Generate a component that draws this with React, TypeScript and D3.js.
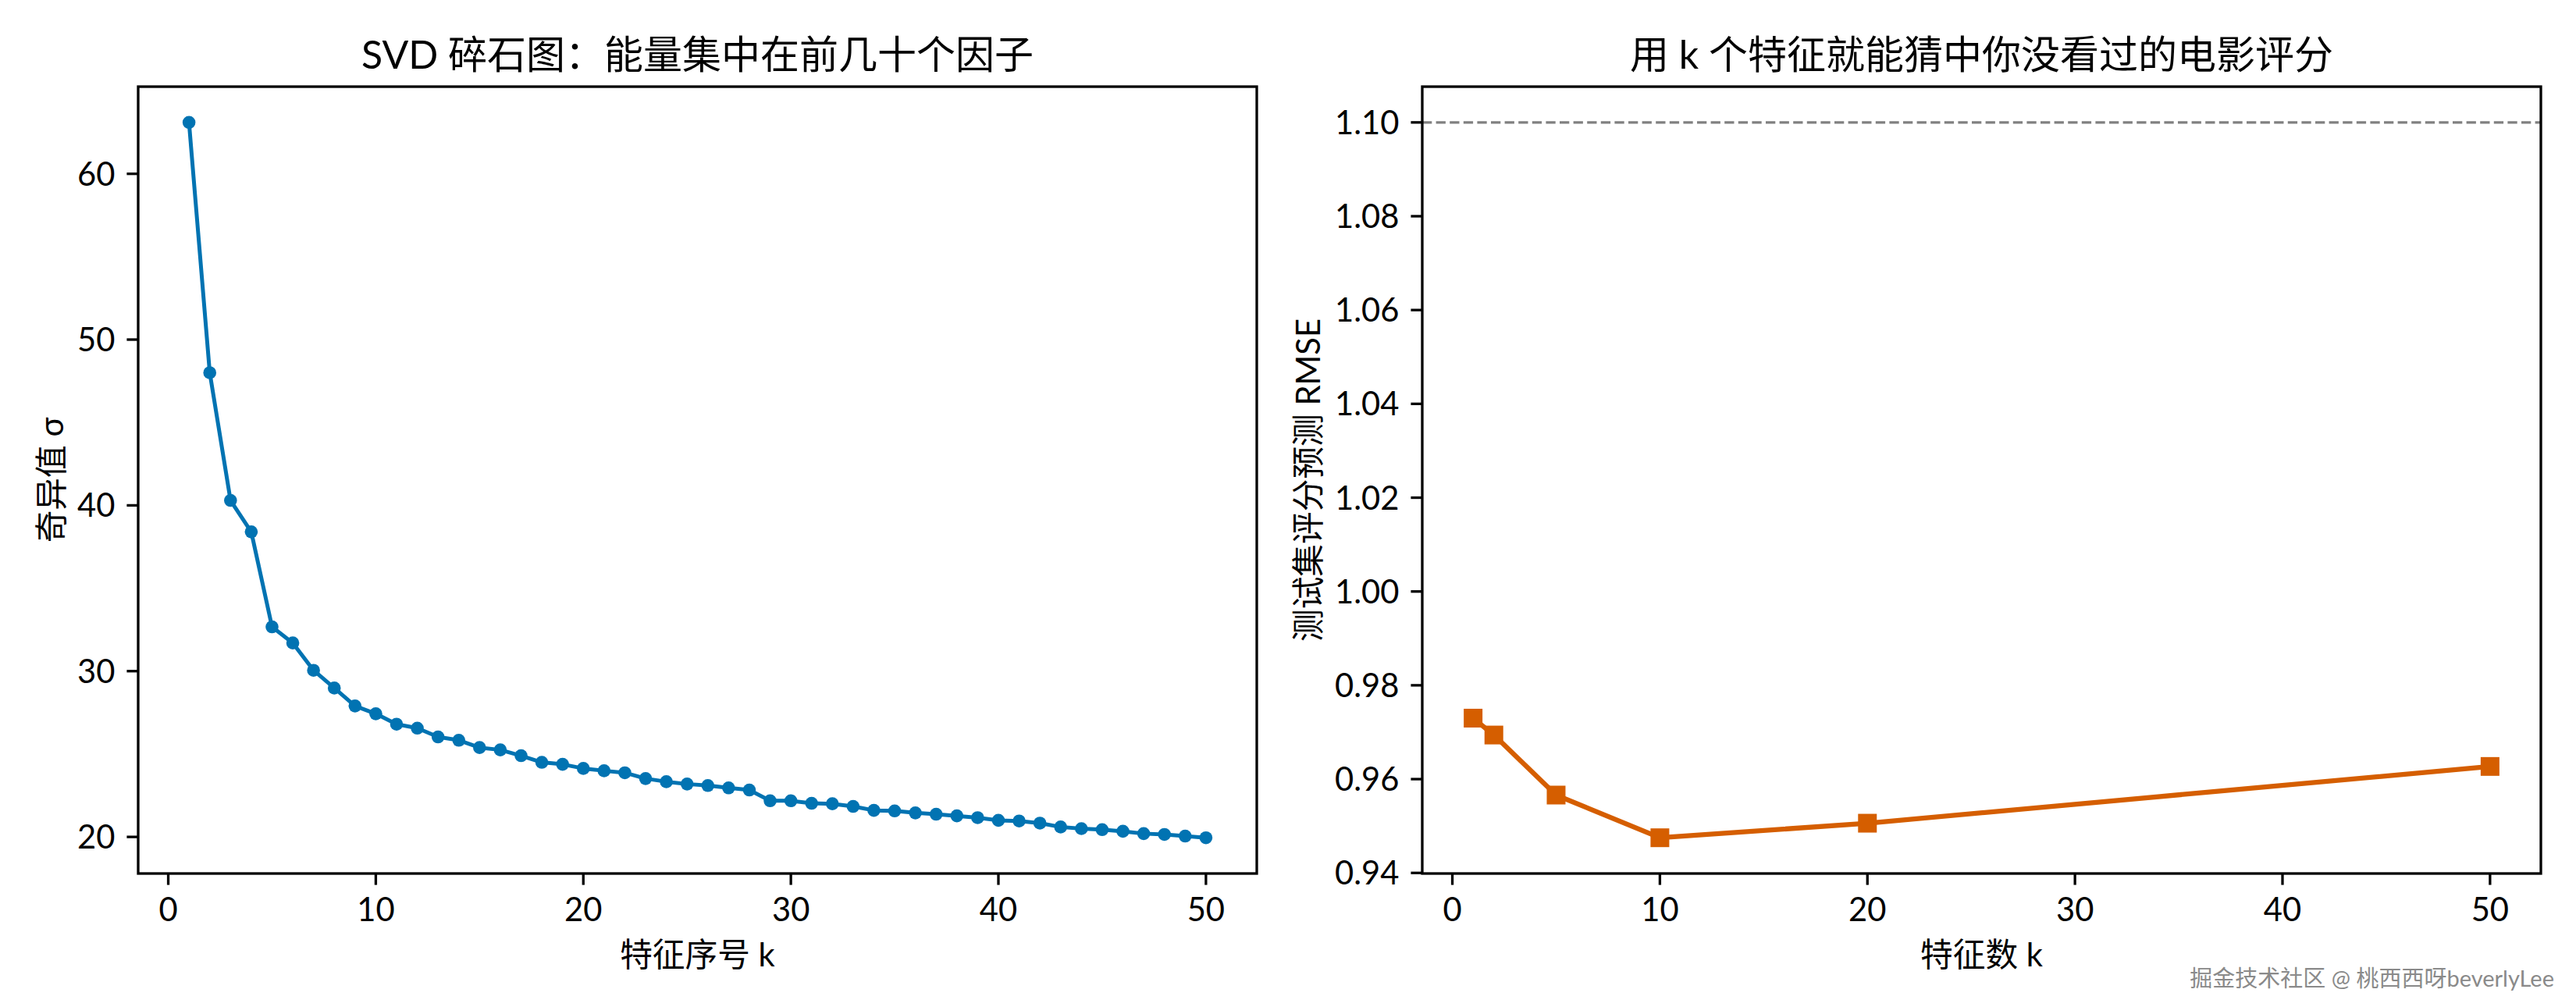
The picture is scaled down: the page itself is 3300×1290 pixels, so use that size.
import React from "react";
import * as d3 from "d3";

// ---- data ----
const svdK: number[] = d3.range(1, 51);
const singularValues: number[] = [
  63.1, 48.0, 40.3, 38.4, 32.67, 31.7, 30.05, 28.98, 27.9, 27.43,
  26.8, 26.56, 26.03, 25.83, 25.39, 25.25, 24.9, 24.5, 24.38, 24.13,
  23.99, 23.87, 23.52, 23.33, 23.19, 23.1, 22.96, 22.83, 22.18, 22.18,
  22.03, 22.0, 21.84, 21.6, 21.57, 21.45, 21.37, 21.27, 21.16, 21.0,
  20.96, 20.83, 20.6, 20.5, 20.44, 20.34, 20.2, 20.15, 20.05, 19.95,
];
const rmseK: number[] = [1, 2, 5, 10, 20, 50];
const rmseValues: number[] = [0.973, 0.9694, 0.9566, 0.9475, 0.9506, 0.9627];
const baselineRmse = 1.1;

const leftXTicks = [0, 10, 20, 30, 40, 50];
const leftYTicks = [20, 30, 40, 50, 60];
const rightXTicks = [0, 10, 20, 30, 40, 50];
const rightYTicks = [0.94, 0.96, 0.98, 1.0, 1.02, 1.04, 1.06, 1.08, 1.1];

const leftTitle = "SVD 碎石图：能量集中在前几十个因子";
const leftXLabel = "特征序号 k";
const leftYLabel = "奇异值 σ";
const rightTitle = "用 k 个特征就能猜中你没看过的电影评分";
const rightXLabel = "特征数 k";
const rightYLabel = "测试集评分预测 RMSE";
const watermark = "掘金技术社区 @ 桃西西呀beverlyLee";

// ---- style ----
const FONT = "Lato, 'Noto Sans CJK SC', sans-serif";
const BLUE = "#0173B2";
const ORANGE = "#D55E00";
const TICK_FS = 41.7;
const LABEL_FS = 41.7;
const TITLE_FS = 50;
const SPINE_W = 3.3;
const TICK_LEN = 14.6;

function padDomain(vals: number[]): [number, number] {
  const [lo, hi] = d3.extent(vals) as [number, number];
  const m = (hi - lo) * 0.05;
  return [lo - m, hi + m];
}

type PanelProps = {
  left: number;
  right: number;
  top: number;
  bottom: number;
  xs: number[];
  ys: number[];
  yExtentVals: number[];
  xTicks: number[];
  yTicks: number[];
  yFmt: (v: number) => string;
  color: string;
  lineWidth: number;
  marker: "circle" | "square";
  title: string;
  xLabel: string;
  yLabel: string;
  yLabelX: number;
  hline?: number;
};

function Panel(p: PanelProps) {
  const x = d3.scaleLinear().domain(padDomain(p.xs)).range([p.left, p.right]);
  const y = d3.scaleLinear().domain(padDomain(p.yExtentVals)).range([p.bottom, p.top]);
  const pts = p.xs.map((k, i) => [k, p.ys[i]] as [number, number]);
  const line = d3
    .line<[number, number]>()
    .x((d) => x(d[0]))
    .y((d) => y(d[1]));
  const cx = (p.left + p.right) / 2;
  const cy = (p.top + p.bottom) / 2;
  return (
    <g fontFamily={FONT}>
      {p.hline !== undefined && (
        <line
          x1={p.left}
          x2={p.right}
          y1={y(p.hline)}
          y2={y(p.hline)}
          stroke="#808080"
          strokeWidth={3.3}
          strokeDasharray="12.3 5.3"
        />
      )}
      <path d={line(pts) || ""} fill="none" stroke={p.color} strokeWidth={p.lineWidth} strokeLinejoin="round" />
      {pts.map((d, i) =>
        p.marker === "circle" ? (
          <circle key={i} cx={x(d[0])} cy={y(d[1])} r={8.3} fill={p.color} />
        ) : (
          <rect key={i} x={x(d[0]) - 12} y={y(d[1]) - 12} width={24} height={24} fill={p.color} />
        )
      )}
      <rect
        x={p.left}
        y={p.top}
        width={p.right - p.left}
        height={p.bottom - p.top}
        fill="none"
        stroke="#000"
        strokeWidth={SPINE_W}
      />
      {p.xTicks.map((t) => (
        <g key={"x" + t}>
          <line x1={x(t)} x2={x(t)} y1={p.bottom} y2={p.bottom + TICK_LEN} stroke="#000" strokeWidth={SPINE_W} />
          <text x={x(t)} y={p.bottom + 61} textAnchor="middle" fontSize={TICK_FS} fill="#000">
            {t}
          </text>
        </g>
      ))}
      {p.yTicks.map((t) => (
        <g key={"y" + t}>
          <line x1={p.left - TICK_LEN} x2={p.left} y1={y(t)} y2={y(t)} stroke="#000" strokeWidth={SPINE_W} />
          <text
            x={p.left - TICK_LEN - 15}
            y={y(t)}
            dy="0.36em"
            textAnchor="end"
            fontSize={TICK_FS}
            fill="#000"
          >
            {p.yFmt(t)}
          </text>
        </g>
      ))}
      <text x={cx} y={88} textAnchor="middle" fontSize={TITLE_FS} fill="#000">
        {p.title}
      </text>
      <text x={cx} y={1238} textAnchor="middle" fontSize={LABEL_FS} fill="#000">
        {p.xLabel}
      </text>
      <text
        transform={`translate(${p.yLabelX},${cy}) rotate(-90)`}
        textAnchor="middle"
        dy="0.36em"
        fontSize={LABEL_FS}
        fill="#000"
      >
        {p.yLabel}
      </text>
    </g>
  );
}

export default function App() {
  const top = 111;
  const bottom = 1119;
  return (
    <svg
      width={3300}
      height={1290}
      viewBox="0 0 3300 1290"
      style={{ position: "absolute", left: 0, top: 0, background: "#fff" }}
    >
      <rect x={0} y={0} width={3300} height={1290} fill="#fff" />
      <Panel
        left={177}
        right={1610}
        top={top}
        bottom={bottom}
        xs={svdK}
        ys={singularValues}
        yExtentVals={singularValues}
        xTicks={leftXTicks}
        yTicks={leftYTicks}
        yFmt={(v) => d3.format("d")(v)}
        color={BLUE}
        lineWidth={5}
        marker="circle"
        title={leftTitle}
        xLabel={leftXLabel}
        yLabel={leftYLabel}
        yLabelX={66}
      />
      <Panel
        left={1822}
        right={3255}
        top={top}
        bottom={bottom}
        xs={rmseK}
        ys={rmseValues}
        yExtentVals={[...rmseValues, baselineRmse]}
        xTicks={rightXTicks}
        yTicks={rightYTicks}
        yFmt={(v) => d3.format(".2f")(v)}
        color={ORANGE}
        lineWidth={6.25}
        marker="square"
        title={rightTitle}
        xLabel={rightXLabel}
        yLabel={rightYLabel}
        yLabelX={1676}
        hline={baselineRmse}
      />
      <text
        x={3272}
        y={1264}
        textAnchor="end"
        fontFamily={FONT}
        fontSize={29}
        fill="#8a8a8a"
        stroke="#ffffff"
        strokeWidth={0.6}
        style={{ paintOrder: "stroke" }}
      >
        {watermark}
      </text>
    </svg>
  );
}
